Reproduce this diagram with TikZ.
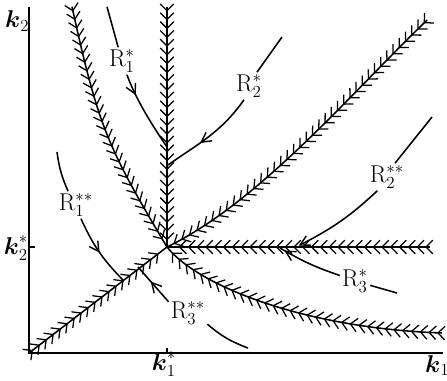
\documentclass[tikz,border=0pt]{standalone}
\usepackage{amsmath}
\usepackage{tikz}
\usetikzlibrary{decorations.markings, calc}

\begin{document}
\begin{tikzpicture}[
    axis/.style={line width=1.5pt},
    feather/.style={line width=1.1pt, postaction={decorate, decoration={markings,
        mark=between positions 1mm and -1.2mm step 2.2mm with {\draw[line width=0.9pt] (-1.7mm,1.7mm) -- (0,0) -- (-1.7mm,-1.7mm);}}}},
    orbit/.style={line width=1.1pt},
    flowtip/.style={postaction={decorate, decoration={markings,
        mark=at position #1 with {\draw[line width=1pt] (-2.4mm,1.3mm) -- (0,0) -- (-2.4mm,-1.3mm);}}}},
    rlab/.style={font=\LARGE, inner sep=1.5pt},
    klab/.style={font=\LARGE, inner sep=1pt}
]
\useasboundingbox (0,0) rectangle (11.175cm,9.5cm);
% axes and the rest point
\coordinate (O) at (0.725cm,0.675cm);
\coordinate (ytop) at (0.725cm,9.33cm);
\coordinate (xend) at (11.08cm,0.675cm);
\coordinate (C) at (4.175cm,3.325cm);
\draw[axis] (ytop) -- (O) -- (xend);
\draw[axis] (O -| C) -- ++(0,0.12cm);
\draw[axis] (O |- C) -- ++(0.16cm,0);
\node[klab] (k2) at (0.43cm,8.98cm) {$\boldsymbol{k}_2$};
\node[klab] (k2s) at (0.40cm,3.30cm) {$\boldsymbol{k}_2^{*}$};
\node[klab] (k1s) at (4.10cm,0.40cm) {$\boldsymbol{k}_1^{*}$};
\node[klab] (k1) at (10.93cm,0.36cm) {$\boldsymbol{k}_1$};
% separatrices, all drawn towards C
\coordinate (sv) at (4.175cm,9.33cm);
\coordinate (sl) at (1.80cm,9.33cm);
\coordinate (sr) at (10.68cm,9.0cm);
\coordinate (sh) at (10.75cm,3.325cm);
\coordinate (sd) at (11.05cm,1.175cm);
\draw[feather] (sv) -- (C);
\draw[feather] (sl) .. controls (2.46cm,6.33cm) and (2.68cm,5.83cm) .. (C);
\draw[feather] (sr) .. controls (8.8cm,7.2cm) and (6.5cm,4.45cm) .. (C);
\draw[feather] (sh) -- (C);
\draw[feather] (sd) .. controls (7.5cm,1.3cm) and (4.9cm,2.4cm) .. (C);
\draw[feather] (O) -- (C);
% trajectories
\node[rlab] (R1s) at (3.05cm,7.975cm) {$\mathrm{R}_1^{*}$};
\node[rlab] (R2s) at (6.225cm,7.35cm) {$\mathrm{R}_2^{*}$};
\node[rlab] (R2ss) at (9.675cm,5.075cm) {$\mathrm{R}_2^{**}$};
\node[rlab] (R3s) at (8.875cm,2.475cm) {$\mathrm{R}_3^{*}$};
\node[rlab] (R1ss) at (1.9cm,4.375cm) {$\mathrm{R}_1^{**}$};
\node[rlab] (R3ss) at (4.7cm,1.675cm) {$\mathrm{R}_3^{**}$};
\coordinate (a1) at (2.675cm,9.33cm);
\coordinate (b1) at (4.175cm,5.825cm);
\coordinate (a2) at (7.05cm,8.575cm);
\coordinate (b2) at (4.2cm,5.375cm);
\coordinate (a3) at (10.8cm,6.575cm);
\coordinate (b3) at (7.5cm,3.375cm);
\coordinate (a4) at (9.925cm,2.175cm);
\coordinate (b4) at (7.0cm,3.3cm);
\coordinate (a5) at (1.425cm,5.7cm);
\coordinate (b5) at (3.075cm,2.5cm);
\coordinate (a6) at (6.2cm,0.8cm);
\coordinate (b6) at (3.45cm,2.825cm);
\draw[orbit] (a1) -- (R1s);
\draw[orbit, flowtip=0.25] (R1s) .. controls (3.4cm,7.0cm) and (3.85cm,6.3cm) .. (b1);
\draw[orbit] (a2) -- (R2s.60);
\draw[orbit, flowtip=0.6] (R2s.250) to[out=-125, in=35] (b2);
\draw[orbit] (a3) -- (R2ss.60);
\draw[orbit, flowtip=0.999] (R2ss.235) to[bend left=8] (b3);
\draw[orbit] (a4) -- (R3s);
\draw[orbit, flowtip=0.9] (R3s.160) to[bend left=6] (b4);
\draw[orbit] (a5) to[bend right=8] (R1ss.120);
\draw[orbit, flowtip=0.5] (R1ss.290) to[bend right=10] (b5);
\draw[orbit] (R3ss.330) to[bend right=10] (a6);
\draw[orbit, flowtip=0.55] (R3ss.150) -- (b6);
\end{tikzpicture}
\end{document}
